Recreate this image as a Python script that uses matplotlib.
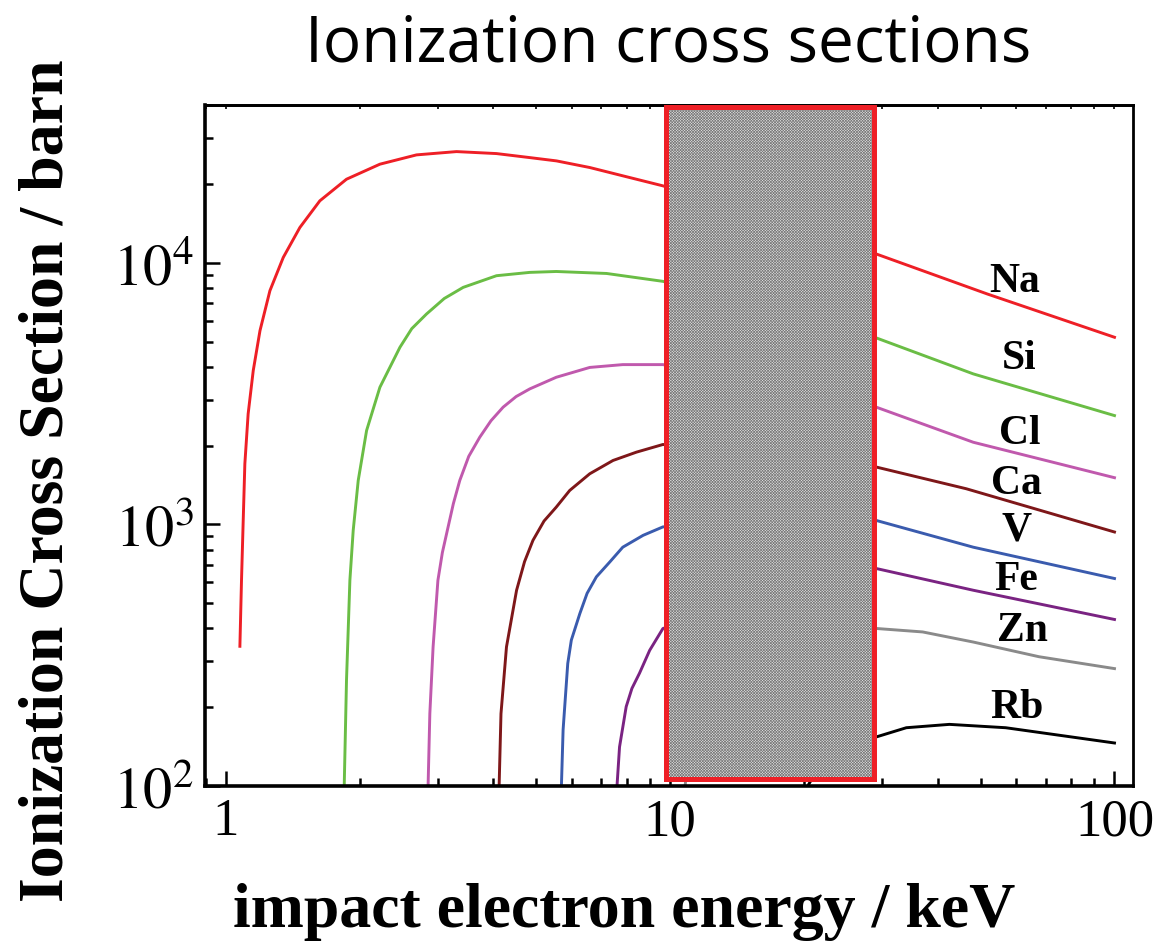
import matplotlib.pyplot as plt
from matplotlib.patches import Rectangle
from matplotlib.ticker import FixedLocator, LogLocator, NullFormatter

plt.rcParams['mathtext.fontset'] = 'stix'
plt.rcParams['hatch.linewidth'] = 0.5

# K-shell ionization cross sections (barn) vs. electron energy (keV)
elements = ['Na', 'Si', 'Cl', 'Ca', 'V', 'Fe', 'Zn', 'Rb']
colors = ['#ee1f26', '#6abd45', '#c059ad', '#7e1719', '#3a5bae', '#7a2382', '#8a8a8a', '#000000']

energy_na = [1.075, 1.084, 1.093, 1.103, 1.122, 1.152, 1.193, 1.256, 1.346, 1.467, 1.627, 1.868,
             2.221, 2.685, 3.304, 4.064, 4.83, 5.546, 6.591, 7.832, 9.636, 29.1, 51.8, 100]
sigma_na = [342, 611, 1000, 1705, 2646, 3871, 5502, 7820, 10480, 13640, 17250, 20860,
            23810, 25840, 26600, 26140, 25230, 24510, 23120, 21480, 19670, 10800, 7590, 5190]

energy_si = [1.846, 1.868, 1.901, 1.934, 1.985, 2.073, 2.221, 2.464, 2.62, 2.828, 3.1, 3.42,
             4.064, 4.83, 5.54, 7.19, 9.63, 29.1, 48.1, 100]
sigma_si = [100, 254, 611, 948, 1472, 2285, 3343, 4752, 5600, 6370, 7300, 8052,
            8922, 9187, 9260, 9100, 8490, 5160, 3760, 2605]

energy_cl = [2.851, 2.877, 2.926, 3.0, 3.07, 3.15, 3.25, 3.36, 3.52, 3.727, 3.95, 4.206, 4.5,
             4.83, 5.54, 6.59, 7.82, 9.63, 29.1, 48.1, 100]
sigma_cl = [100, 189, 340, 611, 780, 948, 1200, 1472, 1820, 2154, 2490, 2805, 3080,
            3295, 3650, 3980, 4080, 4080, 2805, 2060, 1508]

energy_ca = [4.12, 4.16, 4.28, 4.51, 4.70, 4.91, 5.2, 5.54, 5.94, 6.59, 7.435, 8.392, 9.63,
             29.1, 46.4, 100]
sigma_ca = [100, 189, 340, 560, 720, 869, 1030, 1164, 1348, 1561, 1755, 1888, 2020,
            1656, 1368, 935]

energy_v = [5.69, 5.74, 5.88, 5.99, 6.26, 6.5, 6.82, 7.31, 7.82, 8.69, 9.63, 29.1, 48.1, 100]
sigma_v = [100, 164, 294, 361, 456, 545, 630, 718, 818, 908, 978, 1035, 818, 621]

energy_fe = [7.59, 7.69, 7.96, 8.2, 8.53, 8.99, 9.63, 29.1, 48.1, 100]
sigma_fe = [100, 141, 201, 236, 270, 330, 400, 678, 560, 433]

energy_zn = [10.8, 11.5, 15.0, 29.1, 37.0, 48.1, 67.6, 100]
sigma_zn = [100, 250, 380, 400, 388, 355, 312, 281]

energy_rb = [20.4, 22.0, 29.1, 34.0, 42.5, 56.9, 100]
sigma_rb = [100, 125, 154, 167, 172, 167, 146]

curves = [(energy_na, sigma_na), (energy_si, sigma_si), (energy_cl, sigma_cl),
          (energy_ca, sigma_ca), (energy_v, sigma_v), (energy_fe, sigma_fe),
          (energy_zn, sigma_zn), (energy_rb, sigma_rb)]

# shaded energy window
band_lo, band_hi = 9.8, 28.7

label_xy = [(59.6, 8450), (61.1, 4300), (61.1, 2225), (60.2, 1422),
            (60.2, 948), (60.2, 611), (62.0, 390), (60.2, 199)]

fig = plt.figure(figsize=(11.58, 9.43), dpi=100)
ax = fig.add_axes([0.177, 0.1665, 0.801, 0.7222])
ax.set_xscale('log')
ax.set_yscale('log')
ax.set_xlim(0.897, 109.8)
ax.set_ylim(100, 40100)

for (e, s), c in zip(curves, colors):
    ax.plot(e, s, color=c, lw=2.1, zorder=2, solid_joinstyle='round')

ax.add_patch(Rectangle((band_lo, 106), band_hi - band_lo, 39300 - 106,
                       facecolor='#e2e2e2', edgecolor='#7a7a7a', hatch='x' * 12,
                       lw=0, zorder=3))
ax.add_patch(Rectangle((band_lo, 106), band_hi - band_lo, 39300 - 106,
                       fill=False, edgecolor='#ee1f26', lw=3.6, zorder=4))

for name, (lx, ly) in zip(elements, label_xy):
    ax.text(lx, ly, name, ha='center', va='center', fontsize=30,
            fontweight='bold', family='Liberation Serif', zorder=5)

# ticks
ax.xaxis.set_major_locator(FixedLocator([1, 10, 100]))
ax.set_xticklabels(['1', '10', '100'], family='Liberation Serif', fontsize=38)
ax.yaxis.set_major_locator(FixedLocator([1e2, 1e3, 1e4]))
ax.set_yticklabels([r'$10^{2}$', r'$10^{3}$', r'$10^{4}$'], fontsize=42)
ax.xaxis.set_minor_locator(LogLocator(base=10, subs=range(2, 10)))
ax.yaxis.set_minor_locator(LogLocator(base=10, subs=range(2, 10)))
ax.xaxis.set_minor_formatter(NullFormatter())
ax.yaxis.set_minor_formatter(NullFormatter())
ax.tick_params(which='major', direction='in', length=11, width=1.8)
ax.tick_params(which='minor', direction='in', length=6, width=1.8)
ax.tick_params(axis='x', which='major', pad=9)
ax.tick_params(axis='y', which='major', pad=8)

top = ax.secondary_xaxis('top')
top.xaxis.set_major_locator(FixedLocator([1, 10, 100]))
top.xaxis.set_minor_locator(LogLocator(base=10, subs=range(2, 10)))
top.xaxis.set_major_formatter(NullFormatter())
top.xaxis.set_minor_formatter(NullFormatter())
top.tick_params(which='both', direction='in', length=3, width=1.2)
top.spines['top'].set_linewidth(2.0)

for side in ['left', 'bottom']:
    ax.spines[side].set_linewidth(2.6)
for side in ['top', 'right']:
    ax.spines[side].set_linewidth(2.0)

fig.text(668 / 1158, 1 - 62 / 943, 'Ionization cross sections', ha='center',
         va='baseline', fontsize=46, family='Open Sans')
fig.text(624 / 1158, 1 - 927 / 943, 'impact electron energy / keV', ha='center',
         va='baseline', fontsize=46, fontweight='bold', family='Liberation Serif')
fig.text(63 / 1158, 1 - 481 / 943, 'Ionization Cross Section / barn', ha='center',
         va='baseline', rotation=90, rotation_mode='anchor', fontsize=46,
         fontweight='bold', family='Liberation Serif')

fig.savefig('out.png', dpi=100)
